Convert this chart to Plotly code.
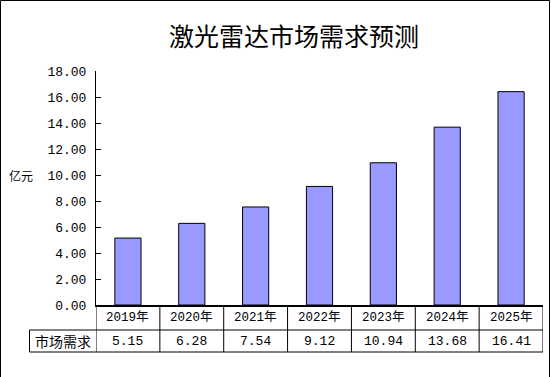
import plotly.graph_objects as go

# ---- data ----
categories = ["2019年", "2020年", "2021年", "2022年", "2023年", "2024年", "2025年"]
demand = [5.15, 6.28, 7.54, 9.12, 10.94, 13.68, 16.41]
value_labels = ["5.15", "6.28", "7.54", "9.12", "10.94", "13.68", "16.41"]
row_label = "市场需求"
y_unit = "亿元"
title_text = "激光雷达市场需求预测"

# ---- layout geometry (pixels) ----
W, H = 551, 377
L, R, T, B = 96, 543, 71, 305   # plot area

def xp(px):
    return (px - L) / (R - L)

def yp(py):
    return (B - py) / (B - T)

MONO = "Liberation Mono, Noto Sans CJK SC"
CJK = "Noto Sans CJK SC"

fig = go.Figure()
fig.add_trace(go.Bar(
    x=list(range(len(categories))), y=demand, width=0.41,
    marker=dict(color="#9999FF", line=dict(color="black", width=1)),
    hoverinfo="skip",
))

shapes = []
n = len(categories)
row1_bot = 330
row2_bot = 352
tbl_left = 29.5
# vertical table lines at category boundaries
for i in range(n + 1):
    shapes.append(dict(type="line", xref="x", yref="paper",
                       x0=i - 0.5, x1=i - 0.5, y0=yp(B), y1=yp(row2_bot),
                       line=dict(color="black", width=1)))
# left label cell
shapes.append(dict(type="line", xref="paper", yref="paper",
                   x0=xp(tbl_left), x1=xp(tbl_left), y0=yp(row1_bot), y1=yp(row2_bot),
                   line=dict(color="black", width=1)))
for yy in (row1_bot, row2_bot):
    shapes.append(dict(type="line", xref="paper", yref="paper",
                       x0=xp(tbl_left), x1=1, y0=yp(yy), y1=yp(yy),
                       line=dict(color="black", width=1)))
# outer border
shapes.append(dict(type="rect", xref="paper", yref="paper",
                   x0=xp(0.5), x1=xp(549.5), y0=yp(0.5), y1=yp(390),
                   line=dict(color="black", width=1), fillcolor="rgba(0,0,0,0)"))

annotations = []
for i, (c, v) in enumerate(zip(categories, value_labels)):
    annotations.append(dict(x=i, y=yp((B + row1_bot) / 2), xref="x", yref="paper",
                            text=c, showarrow=False, xanchor="center", yanchor="middle",
                            font=dict(family=MONO, size=12.5, color="black")))
    annotations.append(dict(x=i, y=yp((row1_bot + row2_bot) / 2), xref="x", yref="paper",
                            text=v, showarrow=False, xanchor="center", yanchor="middle",
                            font=dict(family=MONO, size=13, color="black")))
annotations.append(dict(x=xp((tbl_left + L) / 2), y=yp((row1_bot + row2_bot) / 2),
                        xref="paper", yref="paper", text=row_label, showarrow=False,
                        xanchor="center", yanchor="middle",
                        font=dict(family=CJK, size=14, color="black")))
annotations.append(dict(x=xp(21), y=yp(175), xref="paper", yref="paper", text=y_unit,
                        showarrow=False, xanchor="center", yanchor="middle",
                        font=dict(family=CJK, size=12, color="black")))
annotations.append(dict(x=xp(294), y=yp(35), xref="paper", yref="paper", text=title_text,
                        showarrow=False, xanchor="center", yanchor="middle",
                        font=dict(family=CJK, size=25, color="black")))

fig.update_layout(
    width=W, height=H, autosize=False,
    margin=dict(l=L, r=W - R, t=T, b=H - B, pad=0),
    paper_bgcolor="white", plot_bgcolor="white",
    showlegend=False,
    shapes=shapes, annotations=annotations,
    xaxis=dict(range=[-0.5, n - 0.5], showticklabels=False, showgrid=False,
               zeroline=False, showline=True, linecolor="black", linewidth=2,
               ticks="", fixedrange=True),
    yaxis=dict(range=[0, 18], dtick=2, tickformat=".2f", showgrid=False,
               zeroline=False, showline=True, linecolor="black", linewidth=1,
               ticks="inside", ticklen=5, tickcolor="black",
               ticklabelstandoff=6,
               tickfont=dict(family=MONO, size=13, color="black"), fixedrange=True),
)

fig.write_html("out.html", config={"displayModeBar": False},
               post_script="document.body.style.margin='0';document.body.style.overflow='hidden';")
